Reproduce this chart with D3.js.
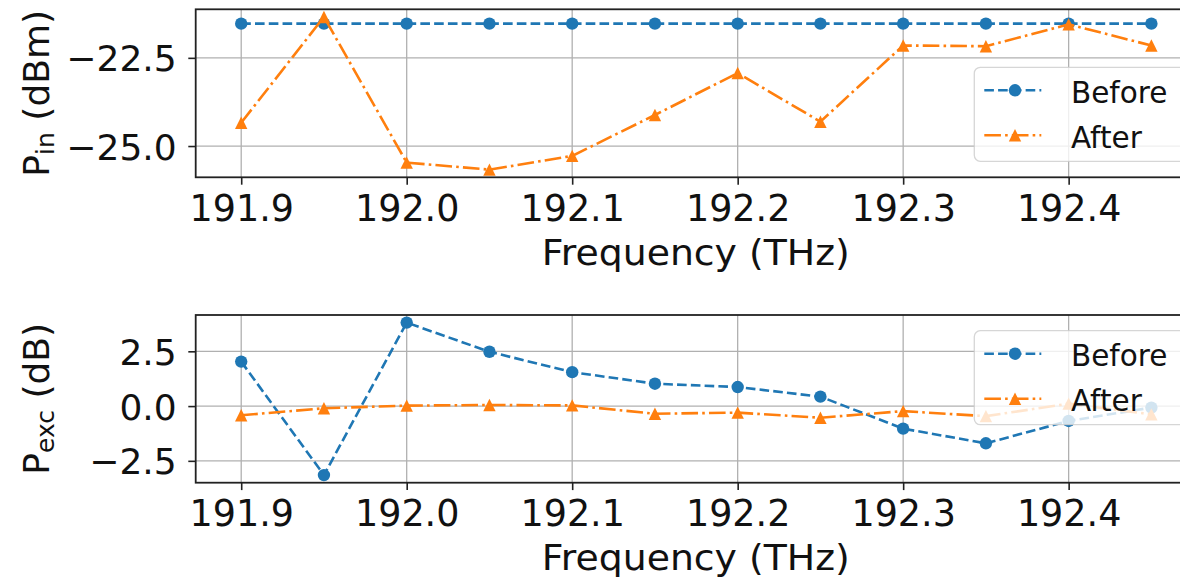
<!DOCTYPE html>
<html>
<head>
<meta charset="utf-8">
<script src="https://cdn.jsdelivr.net/npm/d3@7"></script>
<style>
  body { margin: 0; background: #fff; }
  svg { display: block; font-family: "DejaVu Sans", sans-serif; }
</style>
</head>
<body>
<svg id="chart" width="1180" height="580"></svg>
<script>
// data
const frequencies = [191.9, 191.95, 192.0, 192.05, 192.1, 192.15, 192.2, 192.25, 192.3, 192.35, 192.4, 192.45];
const pinBefore = [-21.53, -21.53, -21.53, -21.53, -21.53, -21.53, -21.53, -21.53, -21.53, -21.53, -21.53, -21.53];
const pinAfter = [-24.34, -21.34, -25.47, -25.67, -25.28, -24.12, -22.93, -24.31, -22.15, -22.17, -21.55, -22.15];
const pexcBefore = [2.03, -3.15, 3.81, 2.48, 1.55, 1.02, 0.87, 0.43, -1.03, -1.70, -0.68, -0.07];
const pexcAfter = [-0.42, -0.10, 0.02, 0.05, 0.03, -0.35, -0.30, -0.53, -0.23, -0.46, 0.11, -0.38];
const xTicks = [191.9, 192.0, 192.1, 192.2, 192.3, 192.4];
const pinTicks = [-25.0, -22.5];
const pexcTicks = [-2.5, 0.0, 2.5];
const seriesNames = ['Before', 'After'];

const svg = d3.select('#chart');
const blue = '#1f77b4', orange = '#ff7f0e';
const lw = 2.6;
const ms = 12.4; // marker size, like matplotlib markersize

// matplotlib style markers: circle of diameter ms, triangle ms wide and ms tall
const circleMarker = d3.symbol().type(d3.symbolCircle).size(Math.PI * (ms / 2) ** 2)();
const h = ms / 2;
const triangleMarker = `M0,${-h}L${h},${h}L${-h},${h}Z`;

const styles = [
  {color: blue, dash: [3.7 * lw, 1.6 * lw], marker: circleMarker},
  {color: orange, dash: [6.4 * lw, 1.6 * lw, 1 * lw, 1.6 * lw], marker: triangleMarker}
];

// matplotlib-like 5% margins around the data
function padded(values) {
  const [lo, hi] = d3.extent(values);
  const m = (hi - lo) * 0.05;
  return [lo - m, hi + m];
}

const left = 195.7, right = 1196.9;
const x = d3.scaleLinear().domain(padded(frequencies)).range([left, right]);

function drawPanel(opts) {
  const {top, bottom, series, ticks, sub, unit, legendTop, id} = opts;
  const y = d3.scaleLinear().domain(padded(series.flat())).range([bottom, top]);
  const g = svg.append('g');

  g.append('clipPath').attr('id', id)
    .append('rect').attr('x', left).attr('y', top)
    .attr('width', right - left).attr('height', bottom - top);

  // grid
  g.append('g').selectAll('line').data(xTicks).join('line')
    .attr('x1', d => x(d)).attr('x2', d => x(d))
    .attr('y1', top).attr('y2', bottom)
    .attr('stroke', '#b0b0b0').attr('stroke-width', 1.3);
  g.append('g').selectAll('line').data(ticks).join('line')
    .attr('x1', left).attr('x2', right)
    .attr('y1', d => y(d)).attr('y2', d => y(d))
    .attr('stroke', '#b0b0b0').attr('stroke-width', 1.3);

  // series
  const plot = g.append('g').attr('clip-path', `url(#${id})`);
  series.forEach((vals, i) => {
    const st = styles[i];
    const pts = frequencies.map((f, k) => [x(f), y(vals[k])]);
    plot.append('path')
      .attr('d', d3.line()(pts))
      .attr('fill', 'none')
      .attr('stroke', st.color)
      .attr('stroke-width', lw)
      .attr('stroke-dasharray', st.dash.join(','));
    plot.append('g').selectAll('path').data(pts).join('path')
      .attr('transform', d => `translate(${d[0]},${d[1]})`)
      .attr('d', st.marker)
      .attr('fill', st.color);
  });

  // frame
  g.append('rect')
    .attr('x', left).attr('y', top)
    .attr('width', right - left).attr('height', bottom - top)
    .attr('fill', 'none').attr('stroke', '#222').attr('stroke-width', 1.8);

  // axes
  const xAxis = g.append('g').attr('transform', `translate(0,${bottom})`)
    .call(d3.axisBottom(x).tickValues(xTicks).tickFormat(d3.format('.1f')).tickSize(7.4).tickSizeOuter(0));
  xAxis.select('.domain').remove();
  xAxis.selectAll('line').attr('stroke', '#222').attr('stroke-width', 1.6);
  xAxis.selectAll('text').attr('y', 43.5).attr('dy', null)
    .attr('font-size', 36.5).attr('fill', '#111').attr('font-family', '"DejaVu Sans", sans-serif');

  const yAxis = g.append('g').attr('transform', `translate(${left},0)`)
    .call(d3.axisLeft(y).tickValues(ticks).tickFormat(d3.format('.1f')).tickSize(7.4).tickPadding(11.6).tickSizeOuter(0));
  yAxis.select('.domain').remove();
  yAxis.selectAll('line').attr('stroke', '#222').attr('stroke-width', 1.6);
  yAxis.selectAll('text').attr('dy', '0.36em')
    .attr('font-size', 36).attr('fill', '#111').attr('font-family', '"DejaVu Sans", sans-serif');

  // axis titles
  g.append('text')
    .attr('x', (left + right) / 2 - 0.5).attr('y', bottom + 87.5)
    .attr('text-anchor', 'middle').attr('font-size', 36).attr('fill', '#111')
    .attr('textLength', 308).attr('lengthAdjust', 'spacingAndGlyphs')
    .text('Frequency (THz)');

  const yl = g.append('text')
    .attr('transform', `translate(49,${(top + bottom) / 2}) rotate(-90)`)
    .attr('text-anchor', 'middle').attr('font-size', 36).attr('fill', '#111');
  yl.append('tspan').text('P');
  yl.append('tspan').attr('font-size', 25).attr('dy', 5).text(sub);
  yl.append('tspan').attr('dy', -5).text('\u00a0' + unit);

  // legend
  const lg = g.append('g').attr('transform', `translate(974.3,${legendTop})`);
  lg.append('rect')
    .attr('width', 212).attr('height', 94).attr('rx', 6)
    .attr('fill', 'white').attr('fill-opacity', 0.8)
    .attr('stroke', '#cccccc').attr('stroke-opacity', 0.8).attr('stroke-width', 1.3);
  seriesNames.forEach((name, i) => {
    const st = styles[i];
    const cy = 23 + i * 45;
    lg.append('line')
      .attr('x1', 10).attr('x2', 67).attr('y1', cy).attr('y2', cy)
      .attr('stroke', st.color).attr('stroke-width', lw)
      .attr('stroke-dasharray', st.dash.join(','));
    lg.append('path')
      .attr('transform', `translate(40.7,${cy})`)
      .attr('d', st.marker)
      .attr('fill', st.color);
    lg.append('text')
      .attr('x', 96.7).attr('y', cy + 12.5)
      .attr('font-size', 29.5).attr('fill', '#111')
      .text(name);
  });
}

drawPanel({
  id: 'clipTop', top: 9.3, bottom: 177.3,
  series: [pinBefore, pinAfter], ticks: pinTicks,
  sub: 'in', unit: '(dBm)', legendTop: 67.3
});
drawPanel({
  id: 'clipBottom', top: 315, bottom: 482.7,
  series: [pexcBefore, pexcAfter], ticks: pexcTicks,
  sub: 'exc', unit: '(dB)', legendTop: 330.7
});
</script>
</body>
</html>
